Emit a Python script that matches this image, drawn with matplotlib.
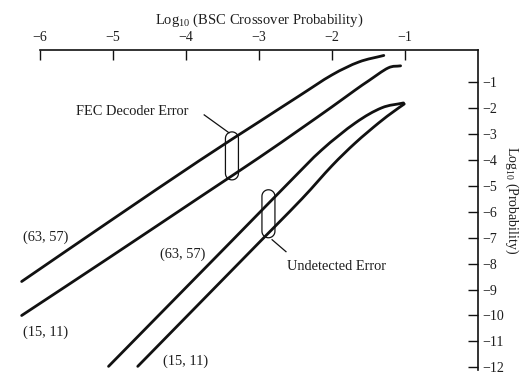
import matplotlib
matplotlib.use("Agg")
import matplotlib.pyplot as plt
from matplotlib.path import Path
from matplotlib.patches import PathPatch
from matplotlib.transforms import ScaledTranslation
import numpy as np

plt.rcParams["font.family"] = ["Liberation Serif", "DejaVu Serif"]
plt.rcParams["mathtext.fontset"] = "custom"
plt.rcParams["mathtext.rm"] = "Liberation Serif"
plt.rcParams["mathtext.it"] = "Liberation Serif:italic"

# log10 of BSC crossover probability (x) vs log10 of probability (y)
fec_63_57_x = [-6.25, -5.05, -3.82, -3.00, -2.45, -2.00, -1.63, -1.29]
fec_63_57_y = [-8.69, -6.38, -4.04, -2.54, -1.54, -0.73, -0.23, 0.02]

fec_15_11_x = [-6.25, -5.05, -3.82, -3.00, -2.45, -2.00, -1.68, -1.50, -1.23, -1.06]
fec_15_11_y = [-10.00, -7.77, -5.46, -3.92, -2.85, -1.96, -1.31, -0.96, -0.46, -0.38]

und_63_57_x = [-5.06, -3.37, -2.59, -2.14, -1.68, -1.32, -1.02]
und_63_57_y = [-11.96, -7.12, -4.88, -3.62, -2.58, -2.00, -1.81]

und_15_11_x = [-4.66, -2.96, -2.41, -2.00, -1.68, -1.36, -1.16, -1.01]
und_15_11_y = [-11.96, -7.08, -5.50, -4.23, -3.35, -2.58, -2.15, -1.85]

x_ticks = [-6, -5, -4, -3, -2, -1]
y_ticks = [-1, -2, -3, -4, -5, -6, -7, -8, -9, -10, -11, -12]

INK = "#111111"
TXT = "#1e1e1e"
FS = 10.4

fig = plt.figure(figsize=(5.2, 3.76), dpi=100)
ax = fig.add_axes([18 / 520, 1 - 370 / 376, (478 - 18) / 520, (370 - 50) / 376])
ax.set_xlim(-6.3, 0)
ax.set_ylim(-12.1, 0.23)


def smooth_path(xs, ys):
    """Catmull-Rom curve through the points, as cubic Bezier segments."""
    p = np.column_stack([xs, ys]).astype(float)
    ext = np.vstack([2 * p[0] - p[1], p, 2 * p[-1] - p[-2]])
    verts = [p[0]]
    codes = [Path.MOVETO]
    for i in range(1, len(ext) - 2):
        p0, p1, p2, p3 = ext[i - 1], ext[i], ext[i + 1], ext[i + 2]
        c1 = p1 + (p2 - p0) / 6.0
        c2 = p2 - (p3 - p1) / 6.0
        verts += [c1, c2, p2]
        codes += [Path.CURVE4] * 3
    return Path(np.array(verts), codes)


for xs, ys in [(fec_63_57_x, fec_63_57_y), (fec_15_11_x, fec_15_11_y),
               (und_63_57_x, und_63_57_y), (und_15_11_x, und_15_11_y)]:
    ax.add_patch(PathPatch(smooth_path(xs, ys), fill=False, edgecolor=INK,
                           lw=2.0, capstyle="round", joinstyle="round"))

# axes: only top and right spines
for s in ["left", "bottom"]:
    ax.spines[s].set_visible(False)
for s in ["top", "right"]:
    ax.spines[s].set_linewidth(1.2)
    ax.spines[s].set_color(INK)
ax.spines["top"].set_bounds(-6, 0)

ax.xaxis.set_ticks_position("top")
ax.yaxis.set_ticks_position("right")
ax.set_xticks(x_ticks)
ax.set_xticklabels([f"\u2212{abs(v)}" for v in x_ticks])
ax.set_yticks(y_ticks)
ax.set_yticklabels([f"\u2212{abs(v)}" for v in y_ticks])
ax.tick_params(axis="x", direction="in", length=7, width=1.0, pad=4,
               labelsize=10, colors=INK, labelcolor=TXT)
ax.tick_params(axis="y", direction="in", length=7, width=1.0, pad=3,
               labelsize=10, colors=INK, labelcolor=TXT)

fig.text(259 / 520, 1 - 20 / 376, r"Log$_\mathrm{10}$ (BSC Crossover Probability)",
         ha="center", va="center", fontsize=10.5, color=TXT)
fig.text(512 / 520, 1 - 200 / 376, r"Log$_\mathrm{10}$ (Probability)",
         ha="center", va="center", rotation=270, fontsize=10, color=TXT)


def stadium(cx, cy, w_px, h_px):
    """Rounded capsule of given pixel size centred on a data point."""
    r = w_px / 2.0
    half = h_px / 2.0 - r
    t1 = np.linspace(0, np.pi, 20)
    t2 = np.linspace(np.pi, 2 * np.pi, 20)
    top = np.column_stack([r * np.cos(t1), half + r * np.sin(t1)])
    bot = np.column_stack([r * np.cos(t2), -half + r * np.sin(t2)])
    pts = np.vstack([top, bot, top[:1]]) / 100.0
    tr = fig.dpi_scale_trans + ScaledTranslation(cx, cy, ax.transData)
    ax.add_patch(PathPatch(Path(pts), transform=tr, fill=False,
                           edgecolor=INK, lw=0.9, clip_on=False))


stadium(-3.37, -3.85, 13, 48)
stadium(-2.87, -6.08, 13, 48)

ax.plot([-3.75, -3.41], [-2.27, -2.96], color=INK, lw=0.9)
ax.plot([-2.82, -2.63], [-7.08, -7.54], color=INK, lw=0.9)

ax.text(-4.73, -2.15, "FEC Decoder Error", ha="center", va="center",
        fontsize=FS, color=TXT)
ax.text(-2.62, -8.12, "Undetected Error", ha="left", va="center",
        fontsize=FS, color=TXT)
ax.text(-5.92, -7.00, "(63, 57)", ha="center", va="center", fontsize=FS, color=TXT)
ax.text(-5.92, -10.65, "(15, 11)", ha="center", va="center", fontsize=FS, color=TXT)
ax.text(-4.04, -7.65, "(63, 57)", ha="center", va="center", fontsize=FS, color=TXT)
ax.text(-4.01, -11.77, "(15, 11)", ha="center", va="center", fontsize=FS, color=TXT)

fig.savefig("out.png", dpi=100)
